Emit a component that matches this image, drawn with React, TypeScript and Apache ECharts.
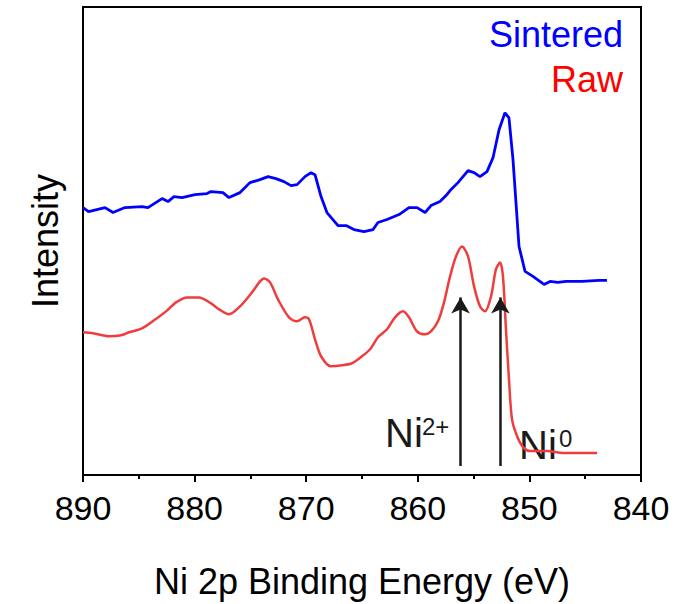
import React, { useEffect, useRef } from "react";
import * as echarts from "echarts";

// Ni 2p binding energy (eV) and intensity (a.u.)
const sinteredEnergy = [890.0, 889.5, 888.03, 887.31, 886.24, 884.71, 884.18, 882.92, 882.38, 881.85, 881.13, 879.96, 878.89, 878.53, 877.46, 876.92, 875.93, 875.04, 874.14, 873.42, 872.71, 871.99, 871.36, 870.82, 870.11, 869.57, 869.21, 868.67, 868.14, 867.15, 866.43, 865.72, 864.82, 864.01, 863.57, 862.76, 861.68, 860.79, 860.07, 859.35, 858.82, 858.01, 857.47, 857.11, 856.4, 855.5, 854.96, 854.43, 853.8, 853.26, 852.72, 852.19, 851.83, 851.47, 850.93, 850.39, 849.68, 848.69, 848.15, 847.44, 846.72, 845.29, 843.76, 843.05];
const sinteredIntensity = [268, 264, 268, 263, 268, 269, 268, 277, 274, 279, 278, 281, 282, 284, 283, 278, 283, 293, 296, 299, 297, 294, 290, 291, 299, 303, 301, 279, 263, 250, 250, 246, 244, 246, 253, 256, 261, 268, 268, 263, 270, 274, 280, 285, 293, 305, 303, 299, 304, 318, 346, 363, 358, 316, 229, 204, 199, 191, 194, 193, 194, 194, 195, 195];

const rawEnergy = [890.0, 889.1, 887.67, 886.59, 885.88, 884.71, 883.64, 882.56, 881.67, 880.68, 879.61, 878.53, 877.81, 876.92, 875.93, 874.86, 874.14, 873.78, 873.24, 872.53, 871.54, 870.82, 870.11, 869.75, 869.21, 868.67, 867.78, 866.79, 865.9, 865.0, 864.28, 863.57, 862.76, 862.04, 861.33, 860.79, 860.07, 859.35, 858.82, 858.19, 857.65, 857.11, 856.58, 856.04, 855.5, 854.96, 854.43, 853.98, 853.44, 853.0, 852.63, 852.37, 852.1, 851.83, 851.56, 851.11, 850.57, 849.95, 848.42, 846.99, 845.47, 843.94];
const rawIntensity = [143, 142, 139, 140, 143, 147, 155, 164, 173, 178, 178, 172, 166, 161, 169, 183, 194, 197, 193, 176, 158, 154, 158, 156, 136, 119, 109, 110, 112, 119, 126, 138, 146, 158, 164, 158, 144, 141, 144, 154, 173, 199, 219, 229, 219, 189, 169, 164, 179, 206, 213, 199, 146, 96, 56, 39, 28, 24, 24, 22, 22, 22];

// Peak markers (eV): Ni2+ and Ni0
const markerEnergy = [856.17, 852.6];
const markerFrom = 9;
const markerTo = 178;

const xTicks = { min: 840, max: 890, interval: 10 };
const seriesNames = ["Sintered", "Raw"];

const FONT = "'Liberation Sans', Arial, sans-serif";

export default function App() {
  const ref = useRef<HTMLDivElement>(null);
  useEffect(() => {
    if (!ref.current) return;
    document.body.style.margin = "0";
    const chart = echarts.init(ref.current, null, { renderer: "svg" });
    const sData = sinteredEnergy.map((e, i) => [e, sinteredIntensity[i]]);
    const rData = rawEnergy.map((e, i) => [e, rawIntensity[i]]);
    chart.setOption({
      animation: false,
      textStyle: { fontFamily: FONT },
      grid: {
        left: 83,
        right: 58,
        top: 7,
        bottom: 128,
        show: true,
        borderColor: "#000",
        borderWidth: 2,
        backgroundColor: "transparent",
      },
      legend: {
        orient: "vertical",
        right: 71,
        top: 16,
        padding: 0,
        itemGap: 9,
        itemWidth: 0,
        itemHeight: 0,
        align: "right",
        icon: "rect",
        selectedMode: false,
        textStyle: { fontSize: 36, fontFamily: FONT },
        data: [
          { name: seriesNames[0], textStyle: { color: "#0000ff" } },
          { name: seriesNames[1], textStyle: { color: "#ff0000" } },
        ],
      },
      xAxis: {
        type: "value",
        inverse: true,
        min: xTicks.min,
        max: xTicks.max,
        interval: xTicks.interval,
        name: "Ni 2p Binding Energy (eV)",
        nameLocation: "middle",
        nameGap: 88,
        nameTextStyle: { fontSize: 36, color: "#000", fontFamily: FONT },
        axisLine: { show: true, lineStyle: { color: "#000", width: 2 } },
        axisTick: { show: true, length: 7, lineStyle: { color: "#000", width: 2 } },
        minorTick: { show: true, splitNumber: 2, length: 4, lineStyle: { color: "#000", width: 2 } },
        axisLabel: { fontSize: 34, color: "#000", margin: 16, fontFamily: FONT },
        splitLine: { show: false },
      },
      yAxis: {
        type: "value",
        min: 0,
        max: 469,
        name: "Intensity",
        nameLocation: "middle",
        nameGap: 20,
        nameTextStyle: { fontSize: 36, color: "#000", fontFamily: FONT },
        axisLine: { show: true, lineStyle: { color: "#000", width: 2 } },
        axisTick: { show: false },
        axisLabel: { show: false },
        splitLine: { show: false },
      },
      series: [
        {
          name: seriesNames[0],
          type: "line",
          data: sData,
          showSymbol: false,
          symbol: "none",
          lineStyle: { color: "#0000ff", width: 2.8 },
          itemStyle: { color: "#0000ff" },
        },
        {
          name: seriesNames[1],
          type: "line",
          data: rData,
          showSymbol: false,
          symbol: "none",
          smooth: 0.3,
          lineStyle: { color: "#f03c3c", width: 2.5 },
          itemStyle: { color: "#ff0000" },
          markLine: {
            silent: true,
            symbol: ["none", "arrow"],
            symbolSize: [14, 16],
            label: { show: false },
            lineStyle: { color: "#1a1a1a", width: 2.5, type: "solid" },
            data: markerEnergy.map((e) => [
              { coord: [e, markerFrom] },
              { coord: [e, markerTo] },
            ]),
          },
        },
      ],
      graphic: [
        { type: "text", x: 385, y: 413, style: { text: "Ni", font: `40px ${FONT}`, fill: "#1a1a1a", textVerticalAlign: "top" } },
        { type: "text", x: 422, y: 414, style: { text: "2+", font: `24px ${FONT}`, fill: "#1a1a1a", textVerticalAlign: "top" } },
        { type: "text", x: 519, y: 425, style: { text: "Ni", font: `40px ${FONT}`, fill: "#1a1a1a", textVerticalAlign: "top" } },
        { type: "text", x: 559, y: 426, style: { text: "0", font: `24px ${FONT}`, fill: "#1a1a1a", textVerticalAlign: "top" } },
      ],
    });
    return () => chart.dispose();
  }, []);
  return <div ref={ref} style={{ width: 699, height: 604 }} />;
}
